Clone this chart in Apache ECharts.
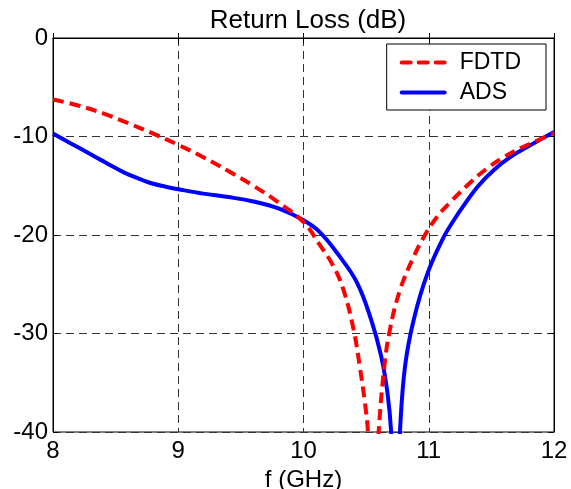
<!DOCTYPE html>
<html>
<head>
<meta charset="utf-8">
<script src="https://cdn.jsdelivr.net/npm/echarts@6/dist/echarts.min.js"></script>
<style>
html,body{margin:0;padding:0;background:#fff;}
#chart{width:571px;height:489px;}
</style>
</head>
<body>
<div id="chart"></div>
<script>
// Return loss of the filter: full-wave FDTD result vs. ADS circuit model
const fdtdFreq = [8.0, 8.2, 8.4, 8.6, 8.8, 9.0, 9.2, 9.4, 9.6, 9.8, 10.0, 10.13, 10.24, 10.32, 10.4, 10.45, 10.49, 10.515, 10.555, 10.6, 10.645, 10.69, 10.77, 10.88, 10.97, 11.07, 11.17, 11.33, 11.47, 11.6, 11.73, 11.87, 12.0];
const fdtdDb   = [-6.25, -6.85, -7.65, -8.65, -9.7, -10.85, -12.1, -13.5, -15.0, -16.7, -18.7, -21.0, -23.2, -25.6, -29.6, -33.4, -37.0, -40.0, -50.0, -40.0, -33.4, -29.6, -25.6, -22.2, -20.0, -18.1, -16.7, -14.7, -13.2, -12.1, -11.2, -10.4, -9.65];

const adsFreq = [8.0, 8.1, 8.2, 8.3, 8.4, 8.5, 8.6, 8.7, 8.8, 8.9, 9.0, 9.2, 9.4, 9.6, 9.8, 10.0, 10.13, 10.29, 10.43, 10.54, 10.62, 10.67, 10.70, 10.735, 10.77, 10.81, 10.88, 10.99, 11.12, 11.2, 11.28, 11.39, 11.52, 11.65, 11.81, 12.0];
const adsDb   = [-9.7, -10.4, -11.1, -11.8, -12.5, -13.2, -13.85, -14.35, -14.8, -15.1, -15.35, -15.8, -16.15, -16.6, -17.3, -18.5, -19.7, -22.2, -24.9, -28.6, -32.3, -36.0, -40.0, -50.0, -40.0, -33.4, -28.6, -23.9, -20.2, -18.5, -17.0, -15.1, -13.4, -12.1, -10.9, -9.55];

const seriesNames = ['FDTD', 'ADS'];
const xTicks = [8, 9, 10, 11, 12];
const yTicks = [-40, -30, -20, -10, 0];

const pair = (xs, ys) => xs.map((x, i) => [x, ys[i]]);
const font = 'Liberation Sans, Arial, sans-serif';
const gridDash = {color: '#333', type: [8, 5], width: 1};

// frame axes on top/right carry only the inward ticks
const frameAxis = {
  axisLine: {lineStyle: {color: '#000'}},
  axisTick: {inside: true, length: 5, lineStyle: {color: '#000'}},
  axisLabel: {show: false},
  splitLine: {show: false}
};

const chart = echarts.init(document.getElementById('chart'), null, {renderer: 'canvas'});
chart.setOption({
  animation: false,
  backgroundColor: '#fff',
  title: {
    text: 'Return Loss (dB)',
    left: 303, top: 3, textAlign: 'center',
    textStyle: {fontFamily: font, fontSize: 26, fontWeight: 'normal', color: '#000'}
  },
  legend: {
    data: [
      {name: seriesNames[0], icon: 'path://M2,0h9a2,2 0 0 1 0,4h-9a2,2 0 0 1 0,-4z M19,0h9a2,2 0 0 1 0,4h-9a2,2 0 0 1 0,-4z M36,0h9a2,2 0 0 1 0,4h-9a2,2 0 0 1 0,-4z'},
      {name: seriesNames[1], icon: 'path://M2,0h43a2,2 0 0 1 0,4h-43a2,2 0 0 1 0,-4z'}
    ],
    orient: 'vertical',
    right: 25, top: 44,
    itemWidth: 47, itemHeight: 4, itemGap: 7,
    padding: [7, 25, 6, 13],
    borderColor: '#000', borderWidth: 1, borderRadius: 0,
    backgroundColor: '#fff',
    itemStyle: {borderWidth: 0},
    lineStyle: {width: 0},
    textStyle: {fontFamily: font, fontSize: 23, lineHeight: 23, color: '#000', padding: [0, 0, 0, 8]}
  },
  grid: {
    left: 53, right: 17, top: 38, bottom: 57,
    outerBoundsMode: 'none', containLabel: false,
    show: true, borderColor: '#000', borderWidth: 1
  },
  xAxis: [
    {
      type: 'value', min: xTicks[0], max: xTicks[xTicks.length - 1], interval: 1,
      name: 'f (GHz)', nameLocation: 'middle', nameGap: 20,
      nameTextStyle: {fontFamily: font, fontSize: 24, color: '#000'},
      axisLine: {lineStyle: {color: '#000'}},
      axisTick: {inside: true, length: 5, lineStyle: {color: '#000'}},
      axisLabel: {fontFamily: font, fontSize: 24, color: '#000', margin: 7},
      splitLine: {show: true, lineStyle: gridDash}
    },
    Object.assign({type: 'value', position: 'top', min: xTicks[0], max: xTicks[xTicks.length - 1], interval: 1}, frameAxis)
  ],
  yAxis: [
    {
      type: 'value', min: yTicks[0], max: yTicks[yTicks.length - 1], interval: 10,
      axisLine: {lineStyle: {color: '#000'}},
      axisTick: {inside: true, length: 5, lineStyle: {color: '#000'}},
      axisLabel: {fontFamily: font, fontSize: 24, color: '#000', margin: 5},
      splitLine: {show: true, lineStyle: gridDash}
    },
    Object.assign({type: 'value', position: 'right', min: yTicks[0], max: yTicks[yTicks.length - 1], interval: 10}, frameAxis)
  ],
  series: [
    {
      name: seriesNames[0], type: 'line', data: pair(fdtdFreq, fdtdDb),
      showSymbol: false, symbol: 'none', smooth: 0.4, clip: true,
      lineStyle: {color: '#ff0000', width: 4, type: [11, 6]},
      itemStyle: {color: '#ff0000'}, z: 3
    },
    {
      name: seriesNames[1], type: 'line', data: pair(adsFreq, adsDb),
      showSymbol: false, symbol: 'none', smooth: 0.4, clip: true,
      lineStyle: {color: '#0000ff', width: 4},
      itemStyle: {color: '#0000ff'}, z: 2
    }
  ]
});
</script>
</body>
</html>
